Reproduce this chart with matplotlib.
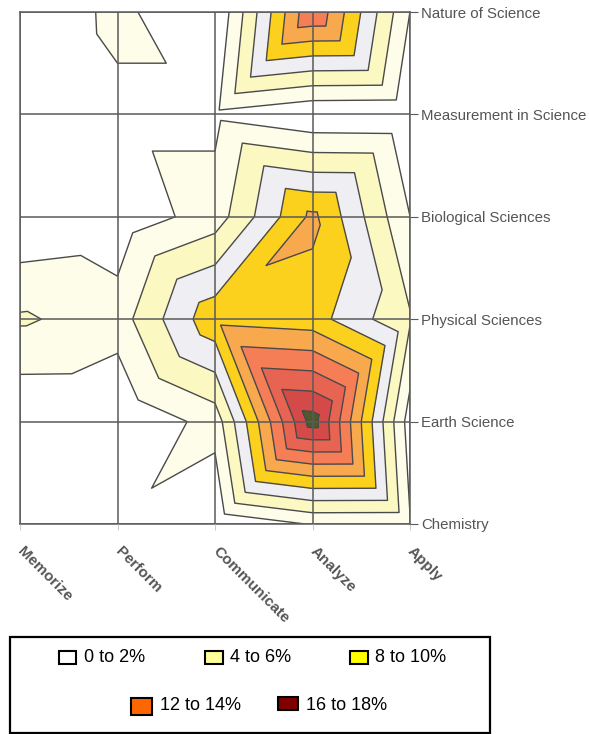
import numpy as np
import matplotlib
matplotlib.use("Agg")
import matplotlib.pyplot as plt
import matplotlib.tri as mtri
from matplotlib.patches import Rectangle

plt.rcParams['font.family'] = ['Liberation Sans', 'DejaVu Sans']

# ---- data ----
skills = ["Memorize", "Perform", "Communicate", "Analyze", "Apply"]
topics = ["Nature of Science", "Measurement in Science", "Biological Sciences",
          "Physical Sciences", "Earth Science", "Chemistry"]
# percent of items, rows = topics (top to bottom), cols = skills
nature      = [0.16, 2.53, 0.00, 13.9, 1.99]
measurement = [0.05, 1.47, 1.47, 0.15, 0.05]
biological  = [0.15, 0.62, 2.95, 10.5, 2.01]
physical    = [4.28, 3.00, 9.45, 8.90, 4.20]
earth       = [0.05, 0.00, 2.80, 19.0, 1.00]
chemistry   = [0.30, 1.57, 0.17, 2.15, 2.10]

levels = [0, 2, 4, 6, 8, 10, 12, 14, 16, 18, 20]
band_colors = ["#FFFFFF", "#FDFDE9", "#FCF8C2", "#EFEFF3", "#FBD11E",
               "#F8A94E", "#F67E57", "#E86452", "#D44A48", "#4F5A2A"]

legend_labels = ["0 to 2%", "4 to 6%", "8 to 10%", "12 to 14%", "16 to 18%"]
legend_colors = ["#FFFFFF", "#FFFF99", "#FFFF00", "#FF6600", "#800000"]

# ---- build grid + Excel-like triangulation ----
Z = np.array([nature, measurement, biological, physical, earth, chemistry])
nr, nc = Z.shape
X, Y = np.meshgrid(np.arange(nc), np.arange(nr))
x = X.ravel().astype(float)
y = Y.ravel().astype(float)
z = Z.ravel()
tris = []
for r in range(nr - 1):
    for c in range(nc - 1):
        tl, tr = r * nc + c, r * nc + c + 1
        bl, br = (r + 1) * nc + c, (r + 1) * nc + c + 1
        if z[tl] + z[br] >= z[tr] + z[bl]:
            tris += [[tl, tr, br], [tl, br, bl]]
        else:
            tris += [[tl, tr, bl], [tr, br, bl]]
tri = mtri.Triangulation(x, y, tris)

W, H = 589, 734
fig = plt.figure(figsize=(W / 100, H / 100), dpi=100)
ax = fig.add_axes([20 / W, 1 - 524 / H, (410 - 20) / W, (524 - 12) / H])

ax.tricontourf(tri, z, levels=levels, colors=band_colors)
ax.tricontour(tri, z, levels=levels[1:-1], colors="#4a4a4a", linewidths=1.0)

ax.set_xlim(0, nc - 1)
ax.set_ylim(nr - 1, 0)
gc = "#5a5a5a"
ax.set_xticks(range(nc))
ax.set_yticks(range(nr))
ax.set_xticklabels(skills, rotation=-45, ha="left", va="center",
                   rotation_mode="anchor", fontsize=11, fontweight="bold",
                   color="#555555")
ax.yaxis.tick_right()
ax.set_yticklabels(topics, fontsize=10.8, color="#555555")
ax.tick_params(axis="y", direction="out", length=6, color=gc, pad=2)
ax.tick_params(axis="x", direction="out", length=4, color="#cccccc", pad=14)
ax.set_axisbelow(False)
ax.grid(True, color=gc, linewidth=1.1)
for s in ax.spines.values():
    s.set_color(gc)
    s.set_linewidth(1.1)

# ---- legend ----
def fx(px):
    return px / W

def fy(py):
    return 1 - py / H

fig.patches.append(Rectangle((fx(10), fy(733)), fx(490) - fx(10), fy(637) - fy(733),
                             transform=fig.transFigure, fill=False,
                             edgecolor="black", linewidth=1.6))
entries = [  # (square left, square top, w, h, text x, text y)
    (59, 651, 17, 13, 84, 658),
    (205, 651, 18, 13, 230, 658),
    (350, 651, 18, 13, 375, 658),
    (131, 698, 21, 17, 160, 706),
    (278, 697, 20, 13, 306, 706),
]
for (sx, sy, sw, sh, tx, ty), lab, col in zip(entries, legend_labels, legend_colors):
    fig.patches.append(Rectangle((fx(sx), fy(sy + sh)), fx(sw), sh / H,
                                 transform=fig.transFigure, facecolor=col,
                                 edgecolor="black", linewidth=1.5))
    fig.text(fx(tx), fy(ty), lab, fontsize=13, va="center", ha="left", color="black")

fig.savefig("out.png", dpi=100)
